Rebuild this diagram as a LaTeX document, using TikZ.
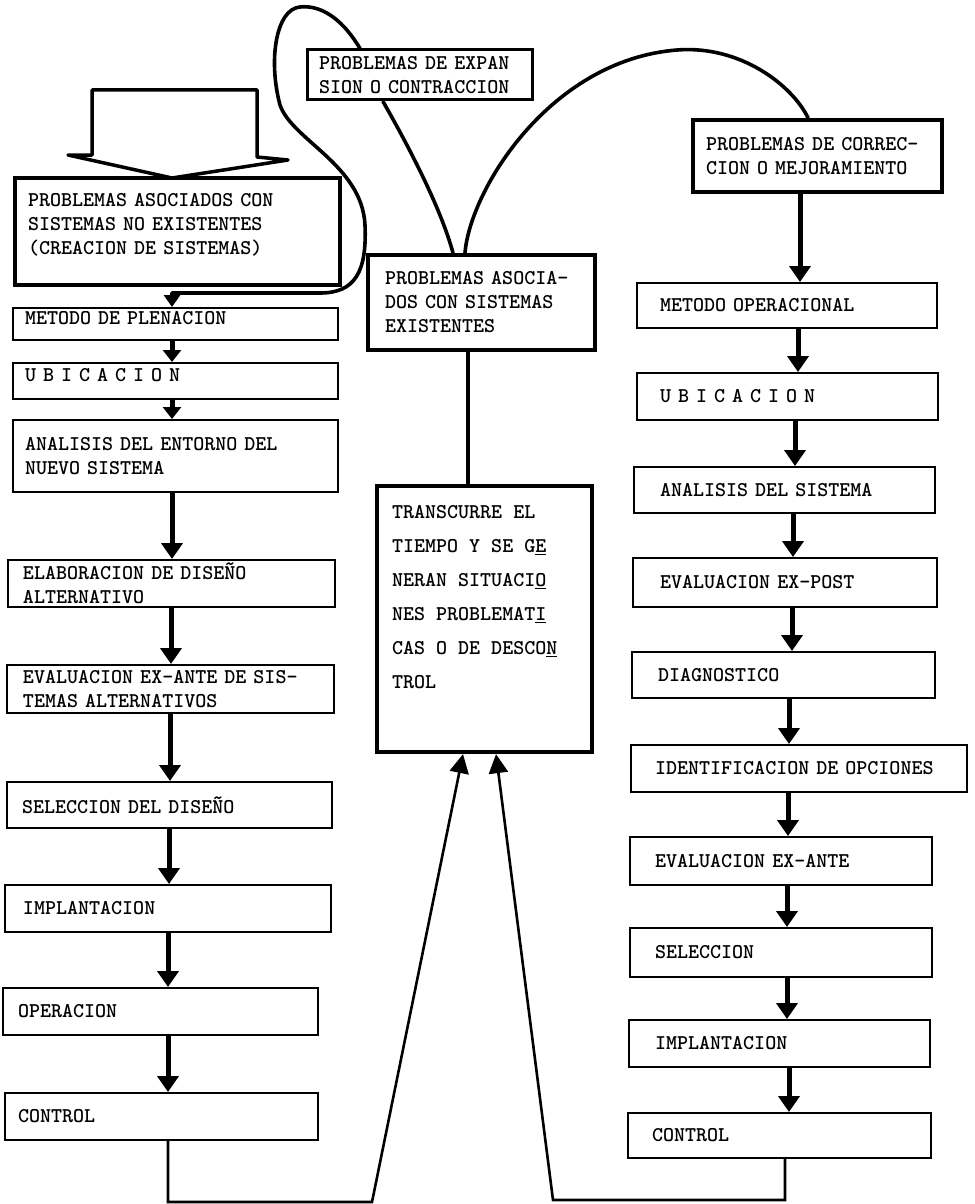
\documentclass[tikz,border=0pt]{standalone}
\usepackage{fontspec}
\usetikzlibrary{arrows.meta}

\tikzset{
  boxbase/.style={draw, rectangle, fill=white, line width=2pt, inner ysep=2pt,
    font=\ttfamily\bfseries\fontsize{21}{24}\selectfont},
  stage/.style={boxbase, align=left},
  heavy/.style={line width=4.2pt},
  flow/.style={line width=5pt, -{Triangle[width=21pt,length=16pt]}},
  flowshort/.style={line width=5pt, -{Triangle[width=18pt,length=12pt]}},
  loopline/.style={line width=3.6pt, line cap=round, line join=round},
  feedback/.style={line width=2.6pt, line join=miter, -{Triangle[width=19pt,length=19pt]}},
}

\begin{document}
\begin{tikzpicture}[x=1pt,y=-1pt]
\useasboundingbox (0,0) rectangle (974,1204);
\fill[white] (0,0) rectangle (974,1204);

% block arrow entering the first column
\draw[line width=3.5pt, line join=round, fill=white]
  (92,90) -- (257,90) -- (257,157) -- (288,160) -- (172,178) -- (68,155) -- (92,155) -- cycle;

% ---------- left column: creation of systems ----------
\node[stage, heavy, inner xsep=13pt, text width=299pt, minimum width=325pt, minimum height=107pt, text depth=63pt]
  (L0) at (177.5,231.5) {PROBLEMAS ASOCIADOS CON\\SISTEMAS NO EXISTENTES\\(CREACION DE SISTEMAS)};
\node[stage, inner xsep=12pt, text width=301pt, minimum width=325pt, minimum height=32pt, text depth=13pt]
  (L1) at (175.5,324) {METODO DE PLENACION};
\node[stage, inner xsep=12pt, text width=301pt, minimum width=325pt, minimum height=36pt, text depth=12pt]
  (L2) at (175.5,381) {U B I C A C I O N};
\node[stage, inner xsep=12pt, text width=301pt, minimum width=325pt, minimum height=72pt]
  (L3) at (175.5,456) {ANALISIS DEL ENTORNO DEL\\NUEVO SISTEMA};
\node[stage, inner xsep=15pt, text width=297pt, minimum width=327pt, minimum height=47pt]
  (L4) at (171.5,583.5) {ELABORACION DE DISEÑO\\ALTERNATIVO};
\node[stage, inner xsep=16pt, text width=295pt, minimum width=327pt, minimum height=48pt]
  (L5) at (170.5,689) {EVALUACION EX-ANTE DE SIS-\\TEMAS ALTERNATIVOS};
\node[stage, inner xsep=15pt, text width=295pt, minimum width=325pt, minimum height=46pt]
  (L6) at (169.5,805) {SELECCION DEL DISEÑO};
\node[stage, inner xsep=18pt, text width=290pt, minimum width=326pt, minimum height=47pt]
  (L7) at (168,908.5) {IMPLANTACION};
\node[stage, inner xsep=15pt, text width=285pt, minimum width=315pt, minimum height=47pt]
  (L8) at (160.5,1011.5) {OPERACION};
\node[stage, inner xsep=13pt, text width=287pt, minimum width=313pt, minimum height=47pt]
  (L9) at (161.5,1116.5) {CONTROL};

% ---------- middle column ----------
\node[stage, line width=3pt, inner xsep=12pt, text width=201pt, minimum width=225pt, minimum height=50pt]
  (M2) at (419.5,75) {PROBLEMAS DE EXPAN\\SION O CONTRACCION};
\node[stage, heavy, inner xsep=17pt, text width=193pt, minimum width=227pt, minimum height=95pt]
  (M0) at (481.5,302.5) {PROBLEMAS ASOCIA-\\DOS CON SISTEMAS\\EXISTENTES};
\node[boxbase, heavy, inner xsep=15pt, minimum width=215pt, minimum height=266pt]
  (M1) at (484.5,619) {\parbox[c][227pt][t]{185pt}{\baselineskip=34pt
    TRANSCURRE EL\\TIEMPO Y SE G\underline{E}\\NERAN SITUACI\underline{O}\\NES PROBLEMAT\underline{I}\\CAS O DE DESCO\underline{N}\\TROL}};

% ---------- right column: correction of existing systems ----------
\node[stage, line width=4.5pt, inner xsep=13pt, text width=223pt, minimum width=249pt, minimum height=72pt]
  (R0) at (817.5,156) {PROBLEMAS DE CORREC-\\CION O MEJORAMIENTO};
\node[stage, inner xsep=23pt, text width=254pt, minimum width=300pt, minimum height=45pt]
  (R1) at (787,305.5) {METODO OPERACIONAL};
\node[stage, inner xsep=23pt, text width=255pt, minimum width=301pt, minimum height=47pt]
  (R2) at (787.5,396.5) {U B I C A C I O N};
\node[stage, inner xsep=26pt, text width=249pt, minimum width=301pt, minimum height=46pt]
  (R3) at (784.5,490) {ANALISIS DEL SISTEMA};
\node[stage, inner xsep=27pt, text width=250pt, minimum width=304pt, minimum height=49pt]
  (R4) at (785,582.5) {EVALUACION EX-POST};
\node[stage, inner xsep=26pt, text width=251pt, minimum width=303pt, minimum height=46pt]
  (R5) at (783.5,675) {DIAGNOSTICO};
\node[stage, inner xsep=24pt, text width=288pt, minimum width=336pt, minimum height=47pt]
  (R6) at (799,768.5) {IDENTIFICACION DE OPCIONES};
\node[stage, inner xsep=25pt, text width=252pt, minimum width=302pt, minimum height=48pt]
  (R7) at (781,861) {EVALUACION EX-ANTE};
\node[stage, inner xsep=25pt, text width=252pt, minimum width=302pt, minimum height=49pt]
  (R8) at (781,952.5) {SELECCION};
\node[stage, inner xsep=26pt, text width=249pt, minimum width=301pt, minimum height=47pt]
  (R9) at (779.5,1043.5) {IMPLANTACION};
\node[stage, inner xsep=24pt, text width=255pt, minimum width=303pt, minimum height=45pt]
  (R10) at (779.5,1135.5) {CONTROL};

% ---------- flow arrows, left column ----------
\draw[flowshort] (L1.south -| 172,0) -- (L2.north -| 172,0);
\draw[flowshort] (L2.south -| 172,0) -- (L3.north -| 172,0);
\draw[flow] (L3.south -| 172,0) -- (L4.north -| 172,0);
\draw[flow] (L4.south -| 171,0) -- (L5.north -| 171,0);
\draw[flow] (L5.south -| 170,0) -- (L6.north -| 170,0);
\draw[flow] (L6.south -| 169,0) -- (L7.north -| 169,0);
\draw[flow] (L7.south -| 168,0) -- (L8.north -| 168,0);
\draw[flow] (L8.south -| 168,0) -- (L9.north -| 168,0);

% ---------- flow arrows, right column ----------
\draw[flow] (R0.south -| 800,0) -- (R1.north -| 800,0);
\draw[flow] (R1.south -| 798,0) -- (R2.north -| 798,0);
\draw[flow] (R2.south -| 795,0) -- (R3.north -| 795,0);
\draw[flow] (R3.south -| 793,0) -- (R4.north -| 793,0);
\draw[flow] (R4.south -| 792,0) -- (R5.north -| 792,0);
\draw[flow] (R5.south -| 789,0) -- (R6.north -| 789,0);
\draw[flow] (R6.south -| 788,0) -- (R7.north -| 788,0);
\draw[flow] (R7.south -| 787,0) -- (R8.north -| 787,0);
\draw[flow] (R8.south -| 787,0) -- (R9.north -| 787,0);
\draw[flow] (R9.south -| 789,0) -- (R10.north -| 789,0);

% ---------- existing systems: link and branches ----------
\draw[line width=4.5pt] (M0.south -| 468,0) -- (M1.north -| 468,0);

\draw[loopline] (M0.north -| 453,0) .. controls (440,205) and (405,140) .. (M2.south -| 383,0);
\draw[loopline, -{Triangle[width=16pt,length=12pt]}]
  (M2.north -| 360,0) .. controls (340,15) and (318,5) .. (300,7)
  .. controls (276,9) and (268,60) .. (280,105)
  .. controls (292,140) and (362,165) .. (365,225)
  .. controls (367,272) and (355,293) .. (320,293)
  -- (172,293) -- (L1.north -| 172,0);

\draw[loopline] (M0.north -| 465,0) .. controls (470,190) and (550,60) .. (677,50)
  .. controls (740,45) and (792,85) .. (R0.north -| 808,0);

% ---------- feedback from both control stages ----------
\draw[feedback] (L9.south -| 168,0) -- (168,1202) -- (372,1202) -- (M1.south -| 463,0);
\draw[feedback] (R10.south -| 785,0) -- (785,1200) -- (553,1200) -- (M1.south -| 496,0);
\end{tikzpicture}
\end{document}
